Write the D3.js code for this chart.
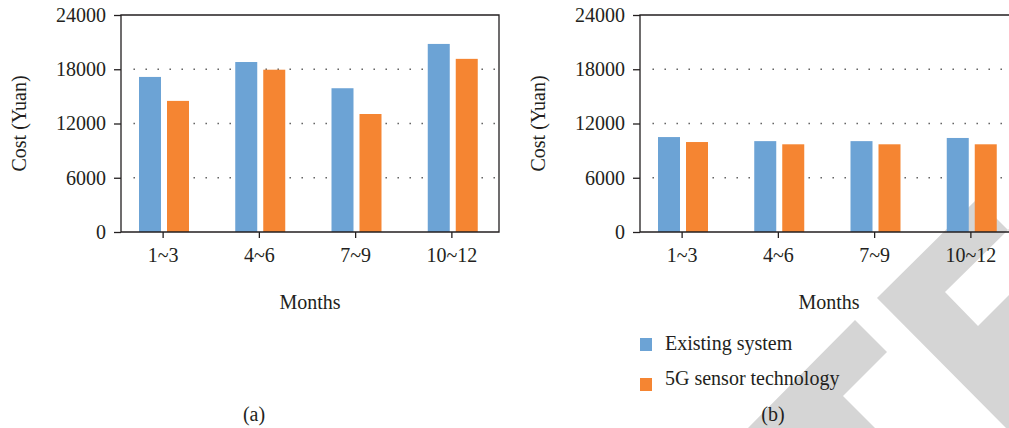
<!DOCTYPE html>
<html>
<head>
<meta charset="utf-8">
<script src="https://cdn.jsdelivr.net/npm/d3@7"></script>
<style>
  body { margin: 0; background: #fff; }
  text { font-family: "Liberation Serif", "DejaVu Serif", serif; fill: #231f20; }
</style>
</head>
<body>
<svg id="chart" width="1009" height="428"></svg>
<script>
// Data
const months = ['1~3', '4~6', '7~9', '10~12'];
const seriesNames = ['Existing system', '5G sensor technology'];
const existingA = [17150, 18800, 15900, 20800];
const sensorA = [14500, 17950, 13050, 19150];
const existingB = [10500, 10050, 10050, 10400];
const sensorB = [9950, 9700, 9700, 9700];
const yTicks = [0, 6000, 12000, 18000, 24000];
const colours = ['#6ca3d5', '#f58532'];

// light grey watermark in the lower right corner
const watermark = [
  [[748, 428], [855, 320], [887, 352], [843, 396], [875, 428]],
  [[877, 298], [977, 199], [1009, 231], [1009, 229], [945, 292], [978, 326], [1009, 295], [1009, 428], [1006, 428]]
];

const svg = d3.select('#chart');

svg.selectAll('.watermark').data(watermark).join('polygon')
    .attr('class', 'watermark')
    .attr('points', d => d.map(p => p.join(',')).join(' '))
    .attr('fill', '#d5d5d5');

const barPanel = (parent, props) => {
  const { left, right, existing, sensor, label } = props;
  const top = 15, bottom = 232;

  const g = parent.append('g');

  const x = d3.scaleBand().domain(months).range([left - 6, right + 1]);
  const xSub = d3.scaleBand().domain(seriesNames).range([24, 74]).paddingInner(6 / 28);
  const y = d3.scaleLinear().domain([0, 24000]).range([bottom, top]);

  // dotted grid
  g.selectAll('.grid').data(yTicks.filter(t => t > 0 && t < 24000)).join('line')
      .attr('class', 'grid')
      .attr('x1', left + 12.5).attr('x2', right)
      .attr('y1', d => y(d)).attr('y2', d => y(d))
      .attr('stroke', '#555')
      .attr('stroke-width', 1.4)
      .attr('stroke-dasharray', '1.4,10.6');

  const rows = months.map((m, i) => ({ month: m, values: [existing[i], sensor[i]] }));
  g.selectAll('.group').data(rows).join('g')
      .attr('class', 'group')
      .attr('transform', d => `translate(${x(d.month)},0)`)
    .selectAll('rect').data(d => d.values.map((v, k) => ({ name: seriesNames[k], value: v, k })))
    .join('rect')
      .attr('x', d => xSub(d.name))
      .attr('width', xSub.bandwidth())
      .attr('y', d => y(d.value))
      .attr('height', d => y(0) - y(d.value))
      .attr('fill', d => colours[d.k]);

  // frame
  g.append('path')
      .attr('d', `M${left},${bottom}V${top}H${right}V${bottom}H${left}`)
      .attr('fill', 'none')
      .attr('stroke', '#231f20')
      .attr('stroke-width', 1.3);

  const yAxis = g.append('g')
      .attr('transform', `translate(${left},0)`)
      .call(d3.axisLeft(y).tickValues(yTicks).tickFormat(d3.format('d')).tickSize(7).tickPadding(8));
  yAxis.select('.domain').remove();

  const xAxis = g.append('g')
      .attr('transform', `translate(0,${bottom})`)
      .call(d3.axisBottom(x).tickSize(6).tickPadding(10));
  xAxis.select('.domain').remove();

  [yAxis, xAxis].forEach(a => {
    a.selectAll('line').attr('stroke', '#231f20').attr('stroke-width', 1.3);
    a.selectAll('text').attr('font-size', 20).attr('font-family', null).attr('fill', null);
  });

  g.append('text')
      .attr('transform', `translate(${left - 95},${(top + bottom) / 2}) rotate(-90)`)
      .attr('text-anchor', 'middle')
      .attr('font-size', 20)
      .text('Cost (Yuan)');

  g.append('text')
      .attr('x', (left + right) / 2)
      .attr('y', 309)
      .attr('text-anchor', 'middle')
      .attr('font-size', 20)
      .text('Months');

  g.append('text')
      .attr('x', left + 133)
      .attr('y', 421)
      .attr('text-anchor', 'middle')
      .attr('font-size', 20)
      .text(label);
};

barPanel(svg, { left: 121, right: 499, existing: existingA, sensor: sensorA, label: '(a)' });
barPanel(svg, { left: 640, right: 1018, existing: existingB, sensor: sensorB, label: '(b)' });

// legend
const legend = svg.append('g').attr('transform', 'translate(640,338)');
const items = legend.selectAll('g').data(seriesNames).join('g')
    .attr('transform', (d, i) => `translate(0,${i * 40})`);
items.append('rect')
    .attr('width', 12).attr('height', 13)
    .attr('fill', (d, i) => colours[i]);
items.append('text')
    .attr('x', 25).attr('y', (d, i) => 12 - i * 5)
    .attr('font-size', 20)
    .text(d => d);
</script>
</body>
</html>
